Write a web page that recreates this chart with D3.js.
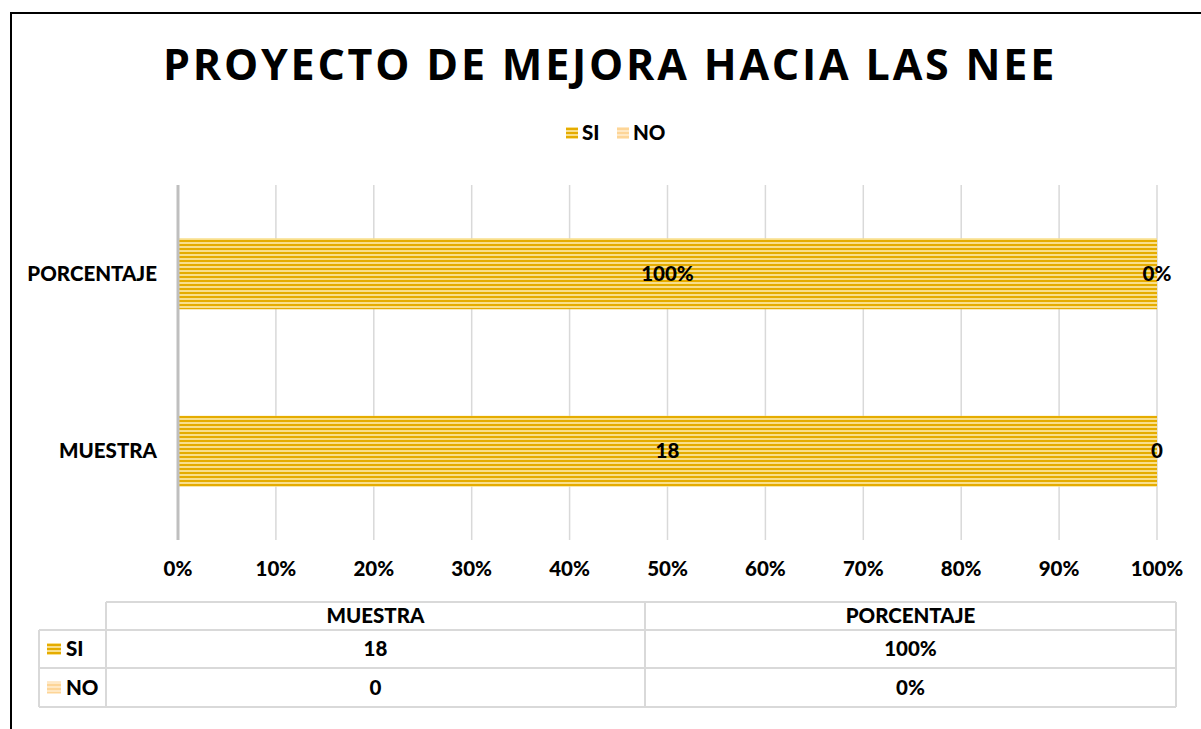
<!DOCTYPE html>
<html lang="es">
<head>
<meta charset="utf-8">
<title>Proyecto de mejora hacia las NEE</title>
<script src="https://cdn.jsdelivr.net/npm/d3@7"></script>
<style>
  body { margin: 0; background: #fff; }
  text { font-family: Lato, "Open Sans", sans-serif; font-weight: 900; fill: #000; }
</style>
</head>
<body>
<script>
// data
var categories = ["PORCENTAJE", "MUESTRA"];
var series = ["SI", "NO"];
var siValues = [1, 18];          // PORCENTAJE as share, MUESTRA as count
var noValues = [0, 0];
var siLabels = ["100%", "18"];
var noLabels = ["0%", "0"];
var ticks = [0, 0.1, 0.2, 0.3, 0.4, 0.5, 0.6, 0.7, 0.8, 0.9, 1];
var tableCols = ["MUESTRA", "PORCENTAJE"];
var tableSi = ["18", "100%"];
var tableNo = ["0", "0%"];

var width = 1201, height = 729;
var fs = "20.5px";

var svg = d3.select("body").append("svg")
    .attr("width", width)
    .attr("height", height);

// striped fills
var defs = svg.append("defs");
function stripes(id, dark, light) {
  var p = defs.append("pattern")
      .attr("id", id)
      .attr("patternUnits", "userSpaceOnUse")
      .attr("width", 8).attr("height", 4);
  p.append("rect").attr("width", 8).attr("height", 4).attr("fill", light);
  p.append("rect").attr("width", 8).attr("height", 2).attr("fill", dark);
}
stripes("pSI", "#e5ac00", "#f9df8c");
stripes("pNO", "#fdd597", "#ffe8c4");
var fills = { SI: "url(#pSI)", NO: "url(#pNO)" };

// outer frame
svg.append("rect")
    .attr("x", 11).attr("y", 13)
    .attr("width", 1300).attr("height", 800)
    .attr("fill", "none")
    .attr("stroke", "#000")
    .attr("stroke-width", 2);

// title
svg.append("text")
    .attr("x", 610).attr("y", 80)
    .attr("text-anchor", "middle")
    .style("font-family", "'Open Sans', sans-serif")
    .style("font-weight", "bold")
    .style("font-size", "43px")
    .style("letter-spacing", "2.8px")
    .text("PROYECTO DE MEJORA HACIA LAS NEE");

// legend
var legend = svg.append("g");
var legX = [566, 617];
series.forEach(function(s, i) {
  legend.append("rect")
      .attr("x", legX[i]).attr("y", 127)
      .attr("width", 12).attr("height", 12)
      .attr("fill", fills[s]);
  legend.append("text")
      .attr("x", legX[i] + 16).attr("y", 133)
      .attr("dy", "0.35em")
      .style("font-size", fs)
      .text(s);
});

// scales
var x = d3.scaleLinear().domain([0, 1]).range([178, 1157]);
var y = d3.scaleBand().domain(categories).range([185, 540])
    .paddingInner(0.6).paddingOuter(0.3);

// gridlines
svg.append("g").selectAll("line")
    .data(ticks.slice(1))
    .enter().append("line")
    .attr("x1", function(d) { return x(d); })
    .attr("x2", function(d) { return x(d); })
    .attr("y1", 185).attr("y2", 540)
    .attr("stroke", "#d9d9d9")
    .attr("stroke-width", 1.5);

// tick labels
svg.append("g").selectAll("text")
    .data(ticks)
    .enter().append("text")
    .attr("x", function(d) { return x(d); })
    .attr("y", 569)
    .attr("dy", "0.35em")
    .attr("text-anchor", "middle")
    .style("font-size", fs)
    .text(d3.format(".0%"));

// stacked 100% bars
var rows = categories.map(function(c, i) {
  var total = siValues[i] + noValues[i];
  return { cat: c, si: siValues[i] / total, no: noValues[i] / total,
           siLabel: siLabels[i], noLabel: noLabels[i] };
});

var bars = svg.append("g");
bars.selectAll("rect.si")
    .data(rows).enter().append("rect")
    .attr("x", x(0))
    .attr("y", function(d) { return y(d.cat); })
    .attr("width", function(d) { return x(d.si) - x(0); })
    .attr("height", y.bandwidth())
    .attr("fill", fills.SI);
bars.selectAll("rect.no")
    .data(rows).enter().append("rect")
    .attr("x", function(d) { return x(d.si); })
    .attr("y", function(d) { return y(d.cat); })
    .attr("width", function(d) { return x(d.si + d.no) - x(d.si); })
    .attr("height", y.bandwidth())
    .attr("fill", fills.NO);

// value labels
bars.selectAll("text.si")
    .data(rows).enter().append("text")
    .attr("x", function(d) { return x(d.si / 2); })
    .attr("y", function(d) { return y(d.cat) + y.bandwidth() / 2; })
    .attr("dy", "0.35em")
    .attr("text-anchor", "middle")
    .style("font-size", fs)
    .text(function(d) { return d.siLabel; });
bars.selectAll("text.no")
    .data(rows).enter().append("text")
    .attr("x", function(d) { return x(d.si + d.no / 2); })
    .attr("y", function(d) { return y(d.cat) + y.bandwidth() / 2; })
    .attr("dy", "0.35em")
    .attr("text-anchor", "middle")
    .style("font-size", fs)
    .text(function(d) { return d.noLabel; });

// vertical axis line
svg.append("line")
    .attr("x1", x(0)).attr("x2", x(0))
    .attr("y1", 185).attr("y2", 540)
    .attr("stroke", "#bfbfbf")
    .attr("stroke-width", 3);

// category labels
svg.append("g").selectAll("text")
    .data(categories)
    .enter().append("text")
    .attr("x", 157)
    .attr("y", function(d) { return y(d) + y.bandwidth() / 2; })
    .attr("dy", "0.35em")
    .attr("text-anchor", "end")
    .style("font-size", fs)
    .text(function(d) { return d; });

// data table
var colX = [106, 645, 1176];
var rowY = [602, 630, 668, 707];
var tbl = svg.append("g");
var lineColor = "#d9d9d9";
function hline(x1, x2, yy) {
  tbl.append("line").attr("x1", x1).attr("x2", x2).attr("y1", yy).attr("y2", yy)
      .attr("stroke", lineColor).attr("stroke-width", 2);
}
function vline(xx, y1, y2) {
  tbl.append("line").attr("x1", xx).attr("x2", xx).attr("y1", y1).attr("y2", y2)
      .attr("stroke", lineColor).attr("stroke-width", 2);
}
hline(colX[0], colX[2], rowY[0]);
hline(39, colX[2], rowY[1]);
hline(39, colX[2], rowY[2]);
hline(39, colX[2], rowY[3]);
vline(39, rowY[1], rowY[3]);
colX.forEach(function(cx) { vline(cx, rowY[0], rowY[3]); });

tableCols.forEach(function(c, i) {
  var cx = (colX[i] + colX[i + 1]) / 2;
  tbl.append("text").attr("x", cx).attr("y", (rowY[0] + rowY[1]) / 2)
      .attr("dy", "0.35em").attr("text-anchor", "middle")
      .style("font-size", fs).text(c);
  tbl.append("text").attr("x", cx).attr("y", (rowY[1] + rowY[2]) / 2)
      .attr("dy", "0.35em").attr("text-anchor", "middle")
      .style("font-size", fs).text(tableSi[i]);
  tbl.append("text").attr("x", cx).attr("y", (rowY[2] + rowY[3]) / 2)
      .attr("dy", "0.35em").attr("text-anchor", "middle")
      .style("font-size", fs).text(tableNo[i]);
});

series.forEach(function(s, i) {
  var cy = (rowY[i + 1] + rowY[i + 2]) / 2;
  tbl.append("rect").attr("x", 47).attr("y", cy - 6)
      .attr("width", 14).attr("height", 12).attr("fill", fills[s]);
  tbl.append("text").attr("x", 66).attr("y", cy)
      .attr("dy", "0.35em").style("font-size", fs).text(s);
});
</script>
</body>
</html>
